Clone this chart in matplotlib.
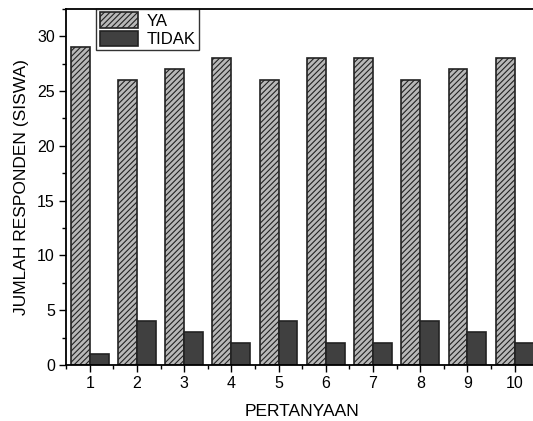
import matplotlib
matplotlib.use('Agg')
import matplotlib.pyplot as plt
import numpy as np
from matplotlib.ticker import MultipleLocator

plt.rcParams['font.family'] = ['Liberation Sans', 'DejaVu Sans']
plt.rcParams['hatch.linewidth'] = 0.8

# data
pertanyaan = [1, 2, 3, 4, 5, 6, 7, 8, 9, 10]
ya = [29, 26, 27, 28, 26, 28, 28, 26, 27, 28]
tidak = [1, 4, 3, 2, 4, 2, 2, 4, 3, 2]

fig = plt.figure(figsize=(5.33, 4.21), dpi=100)
ax = fig.add_axes([0.124, 0.133, 0.886, 0.846])

x = np.array(pertanyaan)
w = 0.4
ax.bar(x - w / 2, ya, w, color='#b8b8b8', edgecolor='#222222', hatch='//////', linewidth=1.2, label='YA')
ax.bar(x + w / 2, tidak, w, color='#404040', edgecolor='#222222', linewidth=1.2, label='TIDAK')

ax.set_xlim(0.5, 10.5)
ax.set_ylim(0, 32.5)
ax.set_xticks(pertanyaan)
ax.xaxis.set_minor_locator(MultipleLocator(0.5))
ax.yaxis.set_major_locator(MultipleLocator(5))
ax.yaxis.set_minor_locator(MultipleLocator(2.5))
ax.tick_params(axis='both', which='major', direction='out', length=5, width=1, labelsize=11.5, pad=3)
ax.tick_params(axis='both', which='minor', direction='out', length=3, width=1)
for s in ax.spines.values():
    s.set_linewidth(1.3)

ax.set_xlabel('PERTANYAAN', fontsize=12.5, labelpad=9)
ax.set_ylabel('JUMLAH RESPONDEN (SISWA)', fontsize=12.5, labelpad=6)

leg = ax.legend(loc='upper left', bbox_to_anchor=(0.064, 1.0), frameon=True, fancybox=False,
                edgecolor='black', fontsize=12, handlelength=2.3, handleheight=1.05,
                borderpad=0.2, labelspacing=0.12, handletextpad=0.5, borderaxespad=0.0)
leg.get_frame().set_linewidth(1.0)

fig.savefig('out.png', dpi=100)
